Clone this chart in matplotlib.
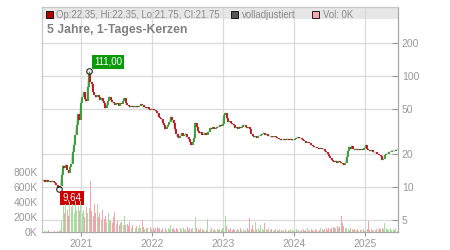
import numpy as np
import pandas as pd
import matplotlib
matplotlib.use('Agg')
import matplotlib.pyplot as plt
import matplotlib.dates as mdates
from matplotlib.patches import Rectangle

plt.rcParams['font.family'] = ['Liberation Sans', 'DejaVu Sans']

# weekly closes (EUR)
closes = [
    11.3, 11.5, 11.1, 11.6, 11.2, 11.4, 11.0, 11.3, 11.1, 10.9,
    10.4, 10.0, 9.8, 10.3, 12.8, 15.6, 14.8, 15.9, 14.2, 13.4,
    15.0, 16.2, 20.5, 24.0, 29.5, 36.0, 45.0, 40.0, 57.0, 65.0,
    72.0, 62.0, 59.0, 80.0, 104.0, 88.0, 84.0, 72.0, 68.0, 64.0,
    67.0, 65.0, 61.0, 63.0, 59.0, 57.0, 51.0, 55.0, 60.0, 65.0,
    61.0, 58.0, 57.0, 55.0, 57.0, 56.0, 54.0, 57.0, 56.0, 59.0,
    63.0, 57.0, 55.0, 54.0, 52.0, 54.0, 53.0, 52.0, 53.5, 52.0,
    53.0, 54.0, 55.5, 55.0, 52.0, 53.0, 51.0, 52.0, 50.0, 49.5,
    50.5, 50.0, 49.0, 48.0, 46.0, 43.0, 42.0, 41.0, 38.0, 36.0,
    33.0, 34.5, 36.0, 38.5, 43.0, 40.0, 38.0, 33.0, 30.0, 28.0,
    27.6, 29.0, 30.6, 29.0, 29.5, 30.0, 28.0, 27.0, 25.5, 24.0,
    25.5, 27.6, 38.0, 35.0, 32.0, 30.6, 31.0, 29.5, 30.0, 30.6,
    29.5, 31.0, 31.5, 34.0, 33.0, 34.5, 33.5, 34.0, 35.0, 34.5,
    36.0, 35.5, 37.0, 44.5, 46.0, 42.0, 38.5, 39.0, 38.0, 37.0,
    36.0, 34.0, 35.0, 33.5, 34.5, 34.0, 35.0, 36.0, 36.0, 35.0,
    34.0, 34.5, 33.0, 30.0, 29.0, 28.0, 28.5, 27.6, 28.5, 29.0,
    29.5, 30.0, 30.6, 29.5, 30.0, 29.0, 29.0, 28.5, 28.0, 28.0,
    28.5, 28.0, 27.5, 27.0, 27.0, 26.5, 26.5, 27.0, 26.5, 27.0,
    27.0, 26.5, 27.0, 26.5, 26.5, 27.0, 27.5, 28.0, 27.5, 27.6,
    27.0, 26.5, 26.0, 25.0, 25.5, 25.0, 25.0, 24.0, 23.5, 23.0,
    22.8, 22.5, 22.5, 22.0, 22.5, 22.0, 22.0, 21.0, 20.5, 20.0,
    19.0, 18.3, 17.5, 17.0, 16.9, 17.2, 16.5, 17.0, 16.9, 16.5,
    16.0, 15.8, 16.5, 18.8, 21.0, 23.0, 22.0, 23.5, 22.0, 21.5,
    22.0, 21.6, 21.8, 21.6, 22.0, 21.6, 22.5, 24.0, 22.0, 21.6,
    21.0, 21.5, 20.8, 20.5, 20.5, 20.0, 20.0, 19.5, 19.0, 17.5,
    18.0, 19.4, 19.8, 20.0, 20.5, 20.8, 21.0, 21.3, 21.0, 21.6,
    21.75,
]

# volume in thousands
volumes_k = [
    30, 15, 5, 10, 25, 5, 0, 5, 0, 10,
    5, 10, 20, 30, 160, 350, 250, 380, 300, 220,
    400, 330, 380, 250, 420, 300, 350, 280, 420, 260,
    300, 200, 330, 250, 320, 690, 280, 220, 380, 250,
    380, 200, 260, 150, 300, 180, 220, 130, 250, 160,
    150, 120, 200, 270, 110, 150, 90, 120, 140, 100,
    220, 90, 110, 80, 130, 60, 100, 70, 60, 80,
    50, 90, 60, 155, 70, 40, 60, 50, 30, 70,
    40, 60, 30, 50, 70, 40, 60, 30, 50, 40,
    60, 30, 50, 40, 90, 40, 60, 30, 50, 40,
    30, 50, 40, 60, 30, 40, 70, 30, 50, 40,
    60, 40, 200, 60, 40, 30, 50, 40, 30, 20,
    30, 170, 40, 30, 50, 30, 40, 20, 40, 30,
    40, 30, 50, 60, 220, 80, 40, 30, 60, 30,
    40, 30, 20, 40, 30, 50, 30, 40, 20, 30,
    50, 30, 185, 40, 100, 30, 130, 40, 60, 30,
    100, 40, 30, 127, 40, 30, 50, 30, 40, 20,
    30, 40, 30, 20, 40, 30, 20, 30, 40, 20,
    30, 20, 40, 30, 20, 30, 40, 20, 30, 20,
    30, 40, 20, 30, 50, 20, 30, 40, 30, 20,
    40, 30, 20, 30, 50, 40, 30, 40, 60, 30,
    50, 40, 60, 70, 60, 50, 80, 60, 70, 220,
    115, 80, 60, 50, 40, 30, 50, 40, 30, 40,
    30, 40, 20, 30, 30, 40, 20, 30, 40, 145,
    30, 40, 30, 20, 30, 40, 30, 50, 40, 60,
    40, 115, 60, 40, 30, 50, 30, 40, 30, 50,
    20,
]

high_label = 111.00
low_label = 9.64
price_ticks = [5, 10, 20, 50, 100, 200]
vol_ticks = [0, 200, 400, 600, 800]
header = "Op:22.35, Hi:22.35, Lo:21.75, Cl:21.75"
title = "5 Jahre, 1-Tages-Kerzen"

dates = pd.date_range('2020-06-19', periods=len(closes), freq='W-FRI')
closes = np.array(closes)
opens = np.concatenate([[closes[0]], closes[:-1]])
up = closes >= opens
green, red = '#2ea02e', '#c0141c'
vgreen, vred = '#a8dca0', '#f0a4ac'

fig = plt.figure(figsize=(4.5, 2.5), dpi=100)
W, H = 450, 250
ax = fig.add_axes([41.7 / W, 18 / H, 356 / W, 225 / H])
ax_vol = ax.twinx()

# price
ax.set_yscale('log')
ax.set_ylim(3.93, 418)
ax.plot(dates, closes, color='#d0d0d0', lw=1.2, zorder=2)
ax.vlines(dates, np.minimum(opens, closes), np.maximum(opens, closes),
          colors=np.where(up, green, red), lw=1.35, zorder=3)

imax = int(np.argmax(closes))
imin = int(np.argmin(closes))
ax.vlines([dates[imax]], closes[imax], high_label, color=green, lw=1.0, zorder=3)
ax.plot(dates[imax], high_label, 'o', ms=4, mfc='none', mec='#222', mew=0.8, zorder=5)
ax.plot(dates[imin], low_label, 'o', ms=4, mfc='none', mec='#222', mew=0.8, zorder=5)
ax.annotate(f"{high_label:.2f}".replace('.', ','), (dates[imax], high_label),
            xytext=(19, 9), textcoords='offset pixels', ha='center', va='center',
            color='white', fontsize=7,
            bbox=dict(boxstyle='square,pad=0.22', fc='#0a9a0a', ec='none'), zorder=6)
ax.annotate(f"{low_label:.2f}".replace('.', ','), (dates[imin], low_label),
            xytext=(13, -9), textcoords='offset pixels', ha='center', va='center',
            color='white', fontsize=7,
            bbox=dict(boxstyle='square,pad=0.22', fc='#cc0000', ec='none'), zorder=6)

ax.yaxis.tick_right()
ax.set_yticks(price_ticks)
ax.set_yticklabels([str(t) for t in price_ticks])
ax.yaxis.set_minor_locator(plt.NullLocator())
ax.tick_params(axis='y', direction='in', length=4, width=0.8, color='#999999',
               labelcolor='#999999', labelsize=7.5, pad=3)

ax.set_xlim(pd.Timestamp('2020-06-14'), pd.Timestamp('2025-06-16'))
ax.xaxis.set_major_locator(mdates.YearLocator())
ax.xaxis.set_major_formatter(mdates.DateFormatter('%Y'))
ax.tick_params(axis='x', direction='out', length=3, width=0.8, color='#999999',
               labelcolor='#999999', labelsize=7.5, pad=2)

ax.set_axisbelow(True)
ax.grid(True, color='#dadada', lw=0.9)
ax.add_patch(Rectangle((0, 1 - 12 / 225), 1, 12 / 225, transform=ax.transAxes,
                       fc='#e6e6e6', ec='none', zorder=0.3))

for side, c in [('top', '#c8c8c8'), ('left', '#c8c8c8'),
                ('right', '#a8a8a8'), ('bottom', '#a8a8a8')]:
    ax.spines[side].set_color(c)
    ax.spines[side].set_linewidth(0.9)

# volume
ax_vol.bar(dates, np.array(volumes_k) * 1000, width=5,
           color=np.where(up, vgreen, vred), zorder=1)
ax_vol.set_ylim(0, 3.02e6)
ax_vol.yaxis.tick_left()
ax_vol.set_yticks([v * 1000 for v in vol_ticks])
ax_vol.set_yticklabels([f"{v}K" for v in vol_ticks])
ax_vol.tick_params(axis='y', length=0, labelcolor='#999999', labelsize=7.5, pad=3)
for s in ax_vol.spines.values():
    s.set_visible(False)

# header
fig.text(47 / W, 1 - 29.7 / H, title, fontsize=8.8, fontweight='bold',
         color='#808080', va='center', ha='left')
items = [(46, '#b00000', header), (231, '#555555', 'volladjustiert'),
         (312.3, '#f4a6b0', 'Vol: 0K')]
for x0, fc, txt in items:
    fig.add_artist(Rectangle((x0 / W, 1 - 18 / H), 6.5 / W, 6.5 / H,
                             transform=fig.transFigure, fc=fc, ec='black', lw=0.6))
    fig.text((x0 + 10.5) / W, 1 - 14.7 / H, txt, fontsize=6.9, color='#8c8c8c',
             va='center', ha='left')

fig.savefig('out.png', dpi=100)
